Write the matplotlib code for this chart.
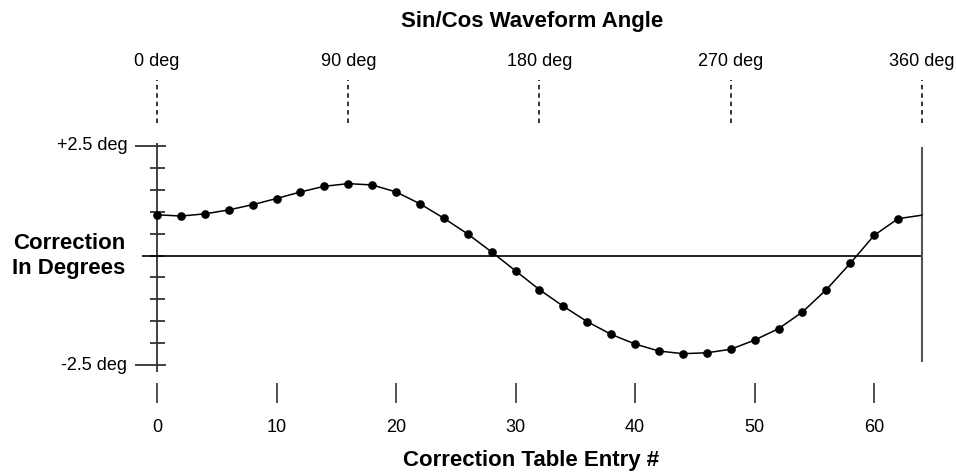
import matplotlib
matplotlib.use("Agg")
import matplotlib.pyplot as plt
import numpy as np

plt.rcParams['font.family'] = ['Liberation Sans', 'DejaVu Sans']

# correction table: one entry every 2 steps, 64 steps = one electrical cycle
entries = list(range(0, 64, 2))
correction = [0.93, 0.90, 0.95, 1.04, 1.16, 1.30, 1.45, 1.58,
              1.64, 1.61, 1.45, 1.18, 0.85, 0.49, 0.08, -0.35,
              -0.78, -1.16, -1.51, -1.80, -2.02, -2.18, -2.24, -2.22,
              -2.14, -1.93, -1.67, -1.29, -0.78, -0.18, 0.46, 0.84]
# the curve wraps round to entry 64 (= 360 deg)
curve_x = entries + [64]
curve_y = correction + [0.92]

entry_ticks = [0, 10, 20, 30, 40, 50, 60]
angle_ticks = [0, 16, 32, 48, 64]
angle_labels = ['0 deg', '90 deg', '180 deg', '270 deg', '360 deg']
deg_ticks = np.arange(-2.5, 2.51, 0.5)

fig = plt.figure(figsize=(9.56, 4.72), dpi=100)
ax = fig.add_axes([0, 0, 1, 1])
ax.set_xlim(-13.14, 66.85)
ax.set_ylim(-4.94, 5.83)
ax.axis('off')

# vertical degree scale at entry 0
ax.vlines(0, -2.66, 2.57, color='#333333', lw=1.3)
minor = [t for t in deg_ticks if abs(abs(t) - 2.5) > 1e-6]
ax.hlines(minor, -0.6, 0.7, color='#333333', lw=1.3)
ax.hlines([-2.5, 2.5], -1.85, 0.75, color='#333333', lw=1.3)
ax.text(-2.5, 2.5, '+2.5 deg', ha='right', va='center', fontsize=13)
ax.text(-2.5, -2.5, '-2.5 deg', ha='right', va='center', fontsize=13)
ax.text(-7.36, -0.02, 'Correction\nIn Degrees', ha='center', va='center',
        fontsize=16, fontweight='bold', linespacing=1.25)

# zero line and end-of-cycle marker
ax.hlines(0, -1.26, 64, color='black', lw=1.2)
ax.vlines(64, -2.43, 2.47, color='#555555', lw=1.5)

# correction curve
ax.plot(curve_x, curve_y, color='black', lw=1.1)
ax.plot(entries, correction, 'o', color='black', ms=5.2)

# table entry axis
ax.vlines(entry_ticks, -3.37, -2.91, color='#333333', lw=1.2)
for t in entry_ticks:
    ax.text(t, -3.92, str(t), ha='center', va='center', fontsize=13)
ax.text(31.3, -4.67, 'Correction Table Entry #', ha='center', va='center',
        fontsize=16, fontweight='bold')

# waveform angle axis
ax.vlines(angle_ticks, 3.03, 4.01, color='black', lw=1.1,
          linestyles=(0, (3, 2.5)))
for t, lab in zip(angle_ticks, angle_labels):
    ax.text(t, 4.42, lab, ha='center', va='center', fontsize=13)
ax.text(31.4, 5.33, 'Sin/Cos Waveform Angle', ha='center', va='center',
        fontsize=16, fontweight='bold')

fig.savefig('out.png', dpi=100)
